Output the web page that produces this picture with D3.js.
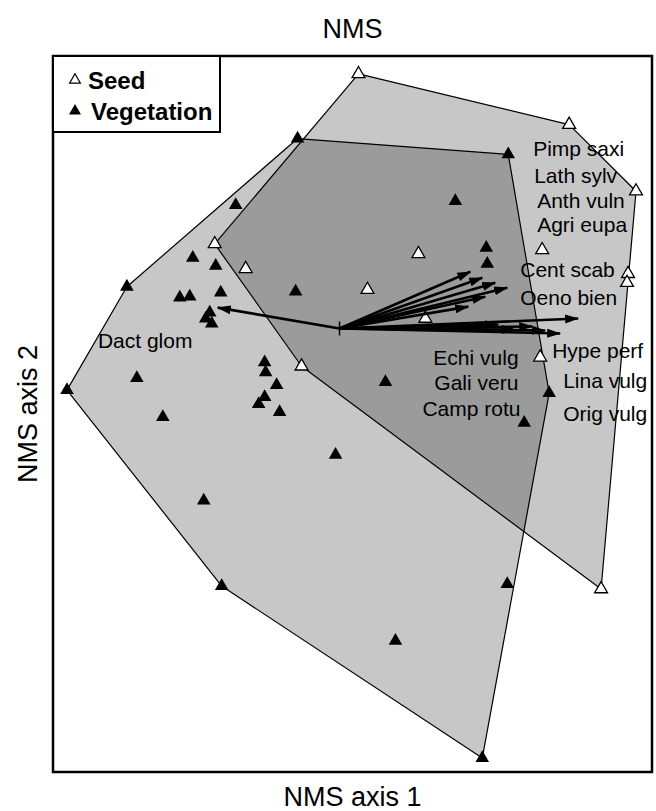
<!DOCTYPE html>
<html>
<head>
<meta charset="utf-8">
<script src="https://cdn.jsdelivr.net/npm/d3@7"></script>
<style>
  body { margin: 0; background: #fff; }
  svg { display: block; }
  text { font-family: "Liberation Sans", Arial, sans-serif; fill: #000; }
</style>
</head>
<body>
<svg id="chart" width="656" height="811"></svg>
<script>
// NMS scores of the seed-bank samples (axis 1, axis 2)
const seedX = [0.06, 2.17, 2.84, 1.90, 0.66, 2.76, 2.75, -1.38, -1.07, 0.15, 0.73, -0.51, 1.88, 2.49];
const seedY = [3.42, 2.91, 2.24, 1.65, 1.61, 1.41, 1.32, 1.71, 1.46, 1.25, 0.96, 0.48, 0.57, -1.76];

// NMS scores of the vegetation samples (axis 1, axis 2)
const vegX = [-0.55, 1.56, 1.03, -1.17, 1.34, 1.35, -1.60, -1.37, -2.26, -1.73, -1.63, -1.32, -0.57,
              -1.43, -1.47, -1.41, -0.88, -0.87, -2.16, -2.86, -0.76, -0.88, -0.94, -0.73, -1.90,
              0.33, 1.97, 1.72, -0.17, -1.49, 1.55, -1.31, 0.43, 1.30];
const vegY = [2.77, 2.61, 2.14, 2.10, 1.67, 1.51, 1.57, 1.49, 1.28, 1.17, 1.18, 1.22, 1.23,
              1.02, 0.96, 0.91, 0.52, 0.42, 0.36, 0.24, 0.29, 0.17, 0.10, 0.02, -0.03,
              0.32, 0.21, -0.09, -0.41, -0.87, -1.71, -1.73, -2.28, -3.46];

// Species vectors: common origin and arrow tips
const vectorOrigin = [-0.13, 0.86];
const species = ["Pimp saxi", "Lath sylv", "Anth vuln", "Agri eupa", "Cent scab", "Oeno bien",
                 "Hype perf", "Lina vulg", "Orig vulg", "Echi vulg", "Gali veru", "Camp rotu", "Dact glom"];
const tipX = [1.18, 1.30, 1.43, 1.55, 1.33, 1.16, 2.26, 2.08, 1.93, 1.80, 1.63, 1.46, -1.35];
const tipY = [1.43, 1.37, 1.32, 1.27, 1.18, 1.08, 0.96, 0.81, 0.84, 0.88, 0.85, 0.90, 1.07];
// Species label anchors (left end, middle of the text)
const labelX = [1.81, 1.82, 1.85, 1.85, 1.68, 1.68, 2.00, 2.11, 2.11, 0.81, 0.82, 0.70, -2.55];
const labelY = [2.67, 2.40, 2.15, 1.91, 1.45, 1.17, 0.64, 0.34, 0.01, 0.57, 0.32, 0.06, 0.74];

const legendItems = ["Seed", "Vegetation"];
const chartTitle = "NMS";
const xTitle = "NMS axis 1";
const yTitle = "NMS axis 2";

const svg = d3.select("#chart");
const frame = { left: 53, top: 56, right: 652, bottom: 772 };

const x = d3.scaleLinear().domain([-3, 3]).range([frame.left, frame.right]);
const y = d3.scaleLinear().domain([-3.6, 3.6]).range([frame.bottom, frame.top]);

const seedPts = seedX.map((v, i) => [x(v), y(seedY[i])]);
const vegPts = vegX.map((v, i) => [x(v), y(vegY[i])]);

// Convex hulls of each group; the overlap darkens naturally
const hullLayer = svg.append("g");
[vegPts, seedPts].forEach(pts => {
  const hull = d3.polygonHull(pts);
  hullLayer.append("path")
    .attr("d", "M" + hull.join("L") + "Z")
    .attr("fill", "#000")
    .attr("fill-opacity", 0.22)
    .attr("stroke", "#000")
    .attr("stroke-width", 1.2)
    .attr("stroke-linejoin", "round");
});

// Arrow head marker
svg.append("defs").append("marker")
  .attr("id", "head")
  .attr("markerUnits", "userSpaceOnUse")
  .attr("viewBox", "0 -5 14 10")
  .attr("refX", 13).attr("refY", 0)
  .attr("markerWidth", 14).attr("markerHeight", 10)
  .attr("orient", "auto")
  .append("path")
  .attr("d", "M0,-4.5L14,0L0,4.5Z")
  .attr("fill", "#000");

// Points
const tri = d3.symbol().type(d3.symbolTriangle);
svg.append("g").selectAll("path")
  .data(vegPts).join("path")
  .attr("transform", d => `translate(${d[0]},${d[1]})`)
  .attr("d", tri.size(80)())
  .attr("fill", "#000");

svg.append("g").selectAll("path")
  .data(seedPts).join("path")
  .attr("transform", d => `translate(${d[0]},${d[1]})`)
  .attr("d", tri.size(72)())
  .attr("fill", "#fff")
  .attr("stroke", "#000")
  .attr("stroke-width", 1.3);

// Species vectors
const vecLayer = svg.append("g");
species.forEach((s, i) => {
  vecLayer.append("line")
    .attr("x1", x(vectorOrigin[0])).attr("y1", y(vectorOrigin[1]))
    .attr("x2", x(tipX[i])).attr("y2", y(tipY[i]))
    .attr("stroke", "#000")
    .attr("stroke-width", 2.6)
    .attr("marker-end", "url(#head)");
});
vecLayer.append("line")
  .attr("x1", x(vectorOrigin[0])).attr("x2", x(vectorOrigin[0]))
  .attr("y1", y(vectorOrigin[1]) - 7).attr("y2", y(vectorOrigin[1]) + 7)
  .attr("stroke", "#000").attr("stroke-width", 1.5);

// Species labels
svg.append("g").selectAll("text")
  .data(species).join("text")
  .attr("x", (d, i) => x(labelX[i]))
  .attr("y", (d, i) => y(labelY[i]))
  .attr("dy", "0.36em")
  .attr("font-size", 21)
  .text(d => d);

// Plot frame
svg.append("rect")
  .attr("x", frame.left).attr("y", frame.top)
  .attr("width", frame.right - frame.left).attr("height", frame.bottom - frame.top)
  .attr("fill", "none").attr("stroke", "#000").attr("stroke-width", 2.5);

// Legend
const lg = svg.append("g");
lg.append("rect")
  .attr("x", frame.left).attr("y", frame.top)
  .attr("width", 167).attr("height", 76)
  .attr("fill", "#fff").attr("stroke", "#000").attr("stroke-width", 2);
legendItems.forEach((name, i) => {
  const cy = frame.top + 24 + i * 31;
  lg.append("path")
    .attr("transform", `translate(${frame.left + 22},${cy})`)
    .attr("d", d3.symbol().type(d3.symbolTriangle).size(i === 0 ? 50 : 62)())
    .attr("fill", i === 0 ? "#fff" : "#000")
    .attr("stroke", "#000").attr("stroke-width", i === 0 ? 1.2 : 0);
  lg.append("text")
    .attr("x", frame.left + 35 + i * 3).attr("y", cy)
    .attr("dy", "0.36em")
    .attr("font-size", 24).attr("font-weight", "bold")
    .text(name);
});

// Titles
svg.append("text")
  .attr("x", (frame.left + frame.right) / 2).attr("y", 28)
  .attr("dy", "0.36em").attr("text-anchor", "middle")
  .attr("font-size", 27).text(chartTitle);
svg.append("text")
  .attr("x", (frame.left + frame.right) / 2).attr("y", 796)
  .attr("dy", "0.36em").attr("text-anchor", "middle")
  .attr("font-size", 27).text(xTitle);
svg.append("text")
  .attr("transform", `translate(27,${(frame.top + frame.bottom) / 2}) rotate(-90)`)
  .attr("dy", "0.36em").attr("text-anchor", "middle")
  .attr("font-size", 27).text(yTitle);
</script>
</body>
</html>
